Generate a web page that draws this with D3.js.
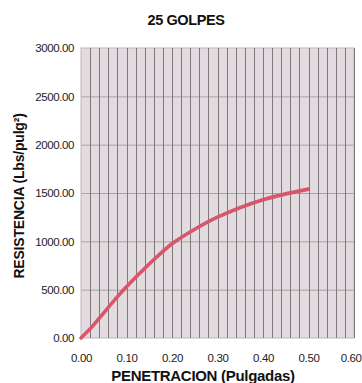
<!DOCTYPE html>
<html><head><meta charset="utf-8">
<script src="https://cdn.jsdelivr.net/npm/d3@7"></script>
<style>html,body{margin:0;padding:0;background:#fff;overflow:hidden}</style>
</head><body>
<svg id="c" width="362" height="383"></svg>
<script>
const title = "25 GOLPES";
const xTitle = "PENETRACION (Pulgadas)";
const yTitle = "RESISTENCIA (Lbs/pulg²)";
const penetracion = [0, 0.025, 0.05, 0.075, 0.10, 0.15, 0.20, 0.25, 0.30, 0.40, 0.50];
const resistencia = [0, 120, 260, 400, 530, 765, 975, 1125, 1250, 1430, 1540];
const xTicks = [0, 0.1, 0.2, 0.3, 0.4, 0.5, 0.6];
const yTicks = [0, 500, 1000, 1500, 2000, 2500, 3000];
const xMinor = d3.range(0, 0.6001, 0.02);

const svg = d3.select("#c");
const m = {l:81, r:354, t:48, b:338};
const x = d3.scaleLinear().domain([0,0.6]).range([m.l, m.r]);
const y = d3.scaleLinear().domain([0,3000]).range([m.b, m.t]);
const font = "'Liberation Sans', Arial, sans-serif";

svg.append("rect").attr("x", m.l).attr("y", m.t).attr("width", m.r-m.l).attr("height", m.b-m.t)
  .attr("fill", "#e2dbdf").attr("stroke", "#bdb7ba").attr("stroke-width", 1);

svg.append("g").selectAll("line").data(yTicks.slice(1,-1)).join("line")
  .attr("x1", m.l).attr("x2", m.r).attr("y1", d=>y(d)+0.5).attr("y2", d=>y(d)+0.5)
  .attr("stroke", "#aaa4a7").attr("stroke-width", 1);

svg.append("g").selectAll("line").data(xMinor.slice(1)).join("line")
  .attr("x1", d=>Math.round(x(d))+0.5).attr("x2", d=>Math.round(x(d))+0.5)
  .attr("y1", m.t).attr("y2", m.b)
  .attr("stroke", "#7e787b").attr("stroke-width", 1);

const yAxis = d3.axisLeft(y).tickValues(yTicks).tickFormat(d3.format(".2f")).tickSize(0).tickPadding(7);
svg.append("g").attr("transform", `translate(${m.l},0)`).call(yAxis)
  .call(g=>g.select(".domain").remove())
  .selectAll("text").attr("font-family", font).attr("font-size", 11.5).attr("fill", "#222").attr("letter-spacing", -0.4);

const xAxis = d3.axisBottom(x).tickValues(xTicks).tickFormat(d3.format(".2f")).tickSize(0).tickPadding(16);
const xg = svg.append("g").attr("transform", `translate(0,${m.b})`).call(xAxis)
  .call(g=>g.select(".domain").remove());
xg.selectAll("text").attr("font-family", font).attr("font-size", 11.5).attr("fill", "#222").attr("letter-spacing", -0.4);
xg.selectAll(".tick").filter(d=>d===0.6).select("text").attr("text-anchor", "end").attr("x", 362 - x(0.6) - 1);

const pts = penetracion.map((p,i)=>[p, resistencia[i]]);
svg.append("path").datum(pts)
  .attr("d", d3.line().x(d=>x(d[0])).y(d=>y(d[1])).curve(d3.curveCatmullRom.alpha(0.5)))
  .attr("fill", "none").attr("stroke", "#d9566a").attr("stroke-width", 3.6).attr("stroke-linecap", "round");

svg.append("text").attr("x", 186).attr("y", 25).attr("text-anchor", "middle")
  .attr("font-family", font).attr("font-weight", "bold").attr("font-size", 14.5).attr("fill", "#111")
  .attr("letter-spacing", -0.4).text(title);

svg.append("text").attr("x", 203).attr("y", 381).attr("text-anchor", "middle")
  .attr("font-family", font).attr("font-weight", "bold").attr("font-size", 15).attr("fill", "#111")
  .attr("letter-spacing", -0.3).text(xTitle);

svg.append("text").attr("transform", "translate(24,196) rotate(-90)").attr("text-anchor", "middle")
  .attr("font-family", font).attr("font-weight", "bold").attr("font-size", 14).attr("fill", "#111")
  .attr("letter-spacing", -0.2).text(yTitle);
</script>
</body></html>
